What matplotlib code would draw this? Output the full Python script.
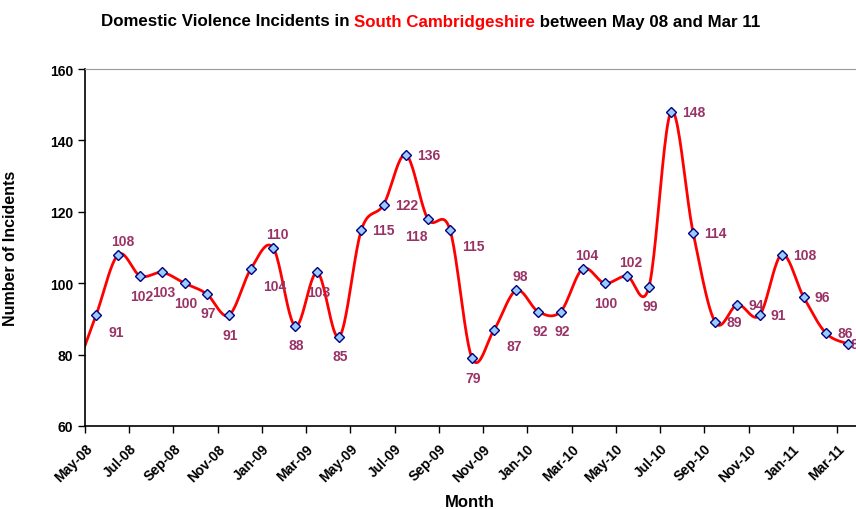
import numpy as np
import matplotlib.pyplot as plt

plt.rcParams['font.family'] = ['Liberation Sans', 'DejaVu Sans']

# monthly counts, May-08 .. Mar-11 (labelled points)
months = ['May-08', 'Jun-08', 'Jul-08', 'Aug-08', 'Sep-08', 'Oct-08', 'Nov-08', 'Dec-08',
          'Jan-09', 'Feb-09', 'Mar-09', 'Apr-09', 'May-09', 'Jun-09', 'Jul-09', 'Aug-09',
          'Sep-09', 'Oct-09', 'Nov-09', 'Dec-09', 'Jan-10', 'Feb-10', 'Mar-10', 'Apr-10',
          'May-10', 'Jun-10', 'Jul-10', 'Aug-10', 'Sep-10', 'Oct-10', 'Nov-10', 'Dec-10',
          'Jan-11', 'Feb-11', 'Mar-11']
incidents = [91, 108, 102, 103, 100, 97, 91, 104, 110, 88, 103, 85, 115, 122, 136, 118,
             115, 79, 87, 98, 92, 92, 104, 100, 102, 99, 148, 114, 89, 94, 91, 108,
             96, 86, 83]
# month before the axis starts (only the line end is visible)
prev_month_value = 74

tick_labels = months[::2]

# where each data label sits relative to its marker
label_pos = ['rb', 'a', 'b', 'b', 'b', 'b', 'b', 'rb', 'a', 'b', 'b', 'b', 'r', 'r', 'r', 'lb',
             'rb', 'b', 'rb', 'a', 'b', 'b', 'a', 'b', 'a', 'b', 'r', 'r', 'r', 'r', 'r', 'r',
             'r', 'r', 'e']
offsets = {'rb': (9, -12, 'left'), 'a': (3, 10, 'center'), 'b': (1, -14, 'center'),
           'r': (8, 0, 'left'), 'lb': (-8, -12, 'center'), 'e': (2, 0, 'left')}


def smooth(x, y, n=24):
    # Bezier smoothing through every point, like a spreadsheet "smoothed line"
    px = np.concatenate([[x[0]], x, [x[-1]]])
    py = np.concatenate([[y[0]], y, [y[-1]]])
    t = np.linspace(0, 1, n)
    xs, ys = [], []
    for i in range(1, len(px) - 2):
        p0 = np.array([px[i], py[i]])
        p3 = np.array([px[i + 1], py[i + 1]])
        p1 = p0 + (np.array([px[i + 1], py[i + 1]]) - np.array([px[i - 1], py[i - 1]])) / 6
        p2 = p3 - (np.array([px[i + 2], py[i + 2]]) - np.array([px[i], py[i]])) / 6
        b = ((1 - t) ** 3)[:, None] * p0 + (3 * (1 - t) ** 2 * t)[:, None] * p1 \
            + (3 * (1 - t) * t ** 2)[:, None] * p2 + (t ** 3)[:, None] * p3
        xs.append(b[:, 0])
        ys.append(b[:, 1])
    return np.concatenate(xs), np.concatenate(ys)


fig = plt.figure(figsize=(8.56, 5.1), dpi=100)
ax = fig.add_axes([85 / 856, 1 - 427 / 510, 1 - 85 / 856, 357 / 510])

x = np.arange(len(incidents)) + 0.5
xl = np.concatenate([[-0.5], x])
yl = np.concatenate([[prev_month_value], incidents])
sx, sy = smooth(xl, yl)
ax.plot(sx, sy, color='red', lw=2, zorder=2)
ax.plot(x, incidents, ls='none', marker='D', ms=5, mfc='#99CCFF', mec='#000080',
        mew=1, zorder=3)

for xi, v, p in zip(x, incidents, label_pos):
    dx, dy, ha = offsets[p]
    ax.annotate(str(v), (xi, v), xytext=(dx, dy), textcoords='offset points',
                ha=ha, va='center', color='#993366', fontsize=10, fontweight='bold',
                annotation_clip=False)

ax.set_xlim(0, 34.86)
ax.set_ylim(60, 160)
ax.set_yticks(range(60, 161, 20))
ax.set_xticks(np.arange(0, len(months), 2))
ax.set_xticklabels(tick_labels, rotation=45, ha='right', rotation_mode='anchor')
ax.tick_params(axis='both', direction='out', length=5, width=1, labelsize=10)
ax.tick_params(axis='x', pad=6)
for lbl in ax.get_xticklabels() + ax.get_yticklabels():
    lbl.set_fontweight('bold')

ax.spines['right'].set_visible(False)
ax.spines['top'].set_color('#999999')
ax.spines['left'].set_linewidth(1.2)
ax.spines['bottom'].set_linewidth(1.2)

ax.set_ylabel('Number of Incidents', fontsize=11.5, fontweight='bold')
ax.yaxis.set_label_coords(-67 / 771, 0.5)
fig.text(470 / 856, 1 - 503 / 510, 'Month', ha='center', va='center',
         fontsize=12, fontweight='bold')

# title with the district name in red
t1 = fig.text(101 / 856, 1 - 22 / 510, 'Domestic Violence Incidents in ', ha='left',
              va='center', fontsize=12.2, fontweight='bold')
t2 = ax.annotate('South Cambridgeshire', xy=(1, 0), xycoords=t1, va='bottom', ha='left',
                 fontsize=12.2, fontweight='bold', color='red')
t3 = ax.annotate(' between May 08 and Mar 11', xy=(1, 0), xycoords=t2, va='bottom',
                 ha='left', fontsize=12.2, fontweight='bold')

fig.savefig('out.png', dpi=100)
